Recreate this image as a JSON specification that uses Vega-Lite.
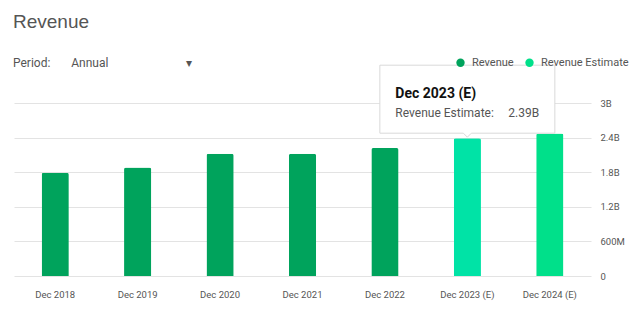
{
  "$schema": "https://vega.github.io/schema/vega-lite/v6.json",
  "autosize": {"type": "none"},
  "width": 577,
  "height": 173,
  "padding": {"left": 14, "top": 103, "right": 49, "bottom": 44},
  "background": "white",
  "title": {
    "text": "Revenue",
    "subtitle": "Period:\u00a0\u00a0\u00a0\u00a0\u00a0\u00a0\u00a0Annual\u00a0\u00a0\u00a0\u00a0\u00a0\u00a0\u00a0\u00a0\u00a0\u00a0\u00a0\u00a0\u00a0\u00a0\u00a0\u00a0\u00a0\u00a0\u00a0\u00a0\u00a0\u00a0\u00a0\u00a0\u00a0\u00a0▾",
    "anchor": "start",
    "frame": "group",
    "font": "Liberation Sans",
    "fontSize": 19,
    "fontWeight": "normal",
    "color": "#555555",
    "subtitleFont": "Roboto",
    "subtitleFontSize": 12,
    "subtitleColor": "#555555",
    "subtitlePadding": 26,
    "offset": -12,
    "dx": -1
  },
  "config": {
    "view": {"stroke": null},
    "font": "Roboto"
  },
  "data": {
    "values": [
      {"period": "Dec 2018", "series": "Revenue", "value": 1790000000},
      {"period": "Dec 2019", "series": "Revenue", "value": 1880000000},
      {"period": "Dec 2020", "series": "Revenue", "value": 2120000000},
      {"period": "Dec 2021", "series": "Revenue", "value": 2120000000},
      {"period": "Dec 2022", "series": "Revenue", "value": 2220000000},
      {"period": "Dec 2023 (E)", "series": "Revenue Estimate", "value": 2390000000},
      {"period": "Dec 2024 (E)", "series": "Revenue Estimate", "value": 2470000000}
    ]
  },
  "encoding": {
    "x": {
      "field": "period",
      "type": "nominal",
      "sort": null,
      "scale": {"paddingInner": 0.67, "paddingOuter": 0.335},
      "axis": {
        "title": null,
        "labelAngle": 0,
        "domain": false,
        "ticks": false,
        "labelFontSize": 9.5,
        "labelColor": "#555555",
        "labelPadding": 13
      }
    },
    "y": {
      "field": "value",
      "type": "quantitative",
      "scale": {"domain": [0, 3000000000]},
      "axis": {
        "title": null,
        "orient": "right",
        "values": [0, 600000000, 1200000000, 1800000000, 2400000000, 3000000000],
        "labelExpr": "datum.value == 0 ? '0' : (datum.value >= 1e9 ? format(datum.value / 1e9, '~g') + 'B' : format(datum.value / 1e6, '~g') + 'M')",
        "domain": false,
        "ticks": false,
        "gridColor": "#e3e3e3",
        "labelFontSize": 9.5,
        "labelColor": "#555555",
        "labelPadding": 9
      }
    }
  },
  "layer": [
    {
      "mark": {"type": "bar", "cornerRadiusTopLeft": 2, "cornerRadiusTopRight": 2},
      "encoding": {
        "color": {
          "condition": {"test": "datum.period == 'Dec 2023 (E)'", "value": "#00e3a6"},
          "field": "series",
          "type": "nominal",
          "scale": {"domain": ["Revenue", "Revenue Estimate"], "range": ["#00a35c", "#00e08a"]},
          "legend": {
            "title": null,
            "orient": "none",
            "direction": "horizontal",
            "legendX": 441,
            "legendY": -46,
            "symbolType": "circle",
            "symbolSize": 70,
            "labelFontSize": 11,
            "labelColor": "#555555",
            "labelOffset": 6,
            "columnPadding": 10
          }
        }
      }
    },
    {
      "transform": [{"filter": "datum.period == 'Dec 2023 (E)'"}],
      "mark": {
        "type": "point",
        "shape": "M-1.75,-1.46 H1.75 V-0.1 H0.08 L0,-0.02 L-0.08,-0.1 H-1.75 Z",
        "size": 10000,
        "filled": true,
        "fill": "white",
        "stroke": "#d9d9d9",
        "strokeWidth": 1,
        "opacity": 1
      }
    },
    {
      "transform": [{"filter": "datum.period == 'Dec 2023 (E)'"}],
      "mark": {
        "type": "text",
        "align": "left",
        "baseline": "alphabetic",
        "dx": -72,
        "dy": -40,
        "fontSize": 14,
        "fontWeight": "bold",
        "color": "#111111"
      },
      "encoding": {"text": {"field": "period"}}
    },
    {
      "transform": [
        {"filter": "datum.period == 'Dec 2023 (E)'"},
        {"calculate": "datum.series + ':'", "as": "label"},
        {"calculate": "format(datum.value / 1e9, '.2f') + 'B'", "as": "amount"}
      ],
      "layer": [
        {
          "mark": {"type": "text", "align": "left", "baseline": "alphabetic", "dx": -72, "dy": -21, "fontSize": 12, "color": "#555555"},
          "encoding": {"text": {"field": "label"}}
        },
        {
          "mark": {"type": "text", "align": "left", "baseline": "alphabetic", "dx": 41, "dy": -21, "fontSize": 12, "color": "#555555"},
          "encoding": {"text": {"field": "amount"}}
        }
      ]
    }
  ]
}
